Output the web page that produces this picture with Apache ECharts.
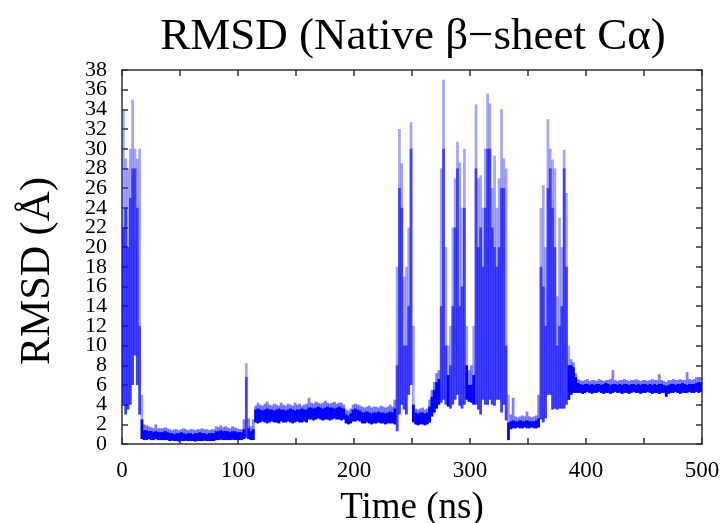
<!DOCTYPE html>
<html>
<head>
<meta charset="utf-8">
<script src="https://cdn.jsdelivr.net/npm/echarts@6/dist/echarts.min.js"></script>
<style>
  html, body { margin: 0; padding: 0; background: #fff; }
  #chart { width: 728px; height: 523px; }
</style>
</head>
<body>
<div id="chart"></div>
<script>
// RMSD trace summarised in 2 ns windows: lowest value, top of the dense band, highest value.
const BIN_NS = 2;

const rmsdLow = [
  4, 3, 3.5, 4, 6, 9, 6, 3, 0.5,
  0.4, 0.4, 0.5, 0.4, 0.4, 0.5, 0.4, 0.4, 0.4, 0.4, 0.4,
  0.3, 0.35, 0.3, 0.3, 0.25, 0.3, 0.3, 0.35, 0.3, 0.3, 0.3, 0.25, 0.3, 0.3, 0.3, 0.35, 0.3, 0.3, 0.3, 0.3,
  0.4, 0.4, 0.45, 0.4, 0.4, 0.4, 0.4, 0.45, 0.4, 0.4, 0.4, 0.4,
  0.5, 0.6, 0.5, 0.4, 0.4,
  2.2, 2.1, 2.2, 2.3, 2.2, 2.1, 2.2, 2.3, 2.2, 2.2, 2.1, 2.3, 2.2, 2.2, 2.3, 2.2, 2.1, 2.2, 2.3, 2.2, 2.2, 2.3, 2.2,
  2.5, 2.5, 2.4, 2.5, 2.6, 2.5, 2.4, 2.5, 2.5, 2.4, 2.5, 2.6, 2.5, 2.5, 2.4, 2.5,
  2.1, 2.0, 2.1,
  2.3, 2.3, 2.4, 2.3,
  2.1, 2.1, 2.2, 2.1, 2.0, 2.1, 2.1, 2.2, 2.1, 2.1, 2.0, 2.1, 2.1, 2.1,
  2.0, 1.3, 3, 4, 3.5, 3, 5, 6, 2.2,
  2.0, 1.9, 2.0, 2.0, 1.9, 2.0,
  2.2, 2.8, 3.2, 3.6, 4.0, 4.2,
  4.5, 4.0, 3.8, 3.6, 4.0, 4.5, 5, 3.9, 3.6, 4.0, 4.5,
  4.3, 4.2, 4.0,
  4.0, 3.5, 3.0, 4.5, 4, 4, 4.5, 4, 3.9, 4.5, 4.5, 3.2, 4, 2.4,
  0.4, 1.5, 1.6,
  1.6, 1.7, 1.6, 1.6, 1.7, 1.6, 1.6, 1.7, 1.6, 1.6,
  1.7,
  2.5, 2.2, 2.6, 5, 5, 3.5, 3.6, 3.5, 3.6, 3.6, 3.6, 4, 4.5,
  5.0, 5.2, 5.2, 5.2,
  5.2, 5.1, 5.2, 5.3, 5.2, 5.1, 5.2, 5.2, 5.3, 5.2,
  5.1, 5.2, 5.2, 5.1, 5.2, 5.3, 5.2, 5.2, 5.1, 5.2,
  5.2, 5.1, 5.2, 5.3, 5.2, 5.2, 5.1, 5.2, 5.2, 5.3,
  5.2, 5.1, 5.2, 5.2, 5.1, 5.2, 5.2, 4.8, 5.1, 5.2,
  5.2, 5.3, 5.2, 5.1, 5.2, 5.2, 5.2, 5.3, 5.2, 5.2,
  5.3, 5.2, 5.3
];

const rmsdBand = [
  22, 24, 20, 25, 28, 28, 24, 12, 2.5,
  1.4, 1.4, 1.3, 1.3, 1.2, 1.3, 1.2, 1.2, 1.2, 1.3, 1.2,
  1.1, 1.1, 1.0, 1.1, 1.1, 1.2, 1.1, 1.0, 1.1, 1.1, 1.0, 1.1, 1.1, 1.2, 1.1, 1.1, 1.0, 1.1, 1.1, 1.1,
  1.3, 1.3, 1.4, 1.3, 1.3, 1.3, 1.2, 1.3, 1.3, 1.2, 1.2, 1.2,
  1.5, 6.8, 1.6, 1.3, 1.5,
  3.5, 3.6, 3.5, 3.4, 3.5, 3.6, 3.5, 3.5, 3.4, 3.5, 3.6, 3.5, 3.5, 3.4, 3.5, 3.6, 3.5, 3.4, 3.5, 3.5, 3.6, 3.5, 3.5,
  3.7, 3.7, 3.6, 3.7, 3.8, 3.7, 3.6, 3.7, 3.8, 3.7, 3.7, 3.6, 3.7, 3.8, 3.7, 3.6,
  3.0, 2.9, 3.1,
  3.5, 3.6, 3.5, 3.4,
  3.2, 3.2, 3.3, 3.2, 3.1, 3.2, 3.2, 3.3, 3.2, 3.2, 3.1, 3.2, 3.3, 3.2,
  3.6, 8, 26, 24, 10, 10, 14, 30, 4,
  3.2, 3.1, 3.2, 3.2, 3.1, 3.2,
  3.8, 4.8, 5.5, 6.3, 6.6, 14,
  30, 10, 7, 8, 14, 22, 28, 14, 16, 24, 8,
  6, 6, 7,
  28, 20, 22, 18, 24, 30, 30, 22, 20, 18, 20, 26, 26, 10,
  2.2, 2.3, 2.4,
  2.3, 2.3, 2.4, 2.3, 2.3, 2.4, 2.3, 2.3, 2.3, 2.4,
  2.6,
  18, 16, 12, 26, 28, 24, 20, 10, 12, 14, 28, 18, 8,
  8, 7.8, 6.8, 6.2,
  6.1, 6.0, 6.1, 6.1, 6.0, 6.1, 6.0, 6.1, 6.1, 6.0,
  6.1, 6.2, 6.1, 6.0, 6.1, 6.1, 6.0, 6.1, 6.0, 6.1,
  6.1, 6.0, 6.1, 6.1, 6.0, 6.1, 6.0, 6.1, 6.1, 6.0,
  6.1, 6.0, 6.1, 6.0, 6.1, 6.1, 6.0, 5.9, 6.0, 6.1,
  6.1, 6.0, 6.1, 6.1, 6.2, 6.1, 6.0, 6.1, 6.1, 6.1,
  6.2, 6.3, 6.3
];

const rmsdHigh = [
  34, 29, 28, 30, 35, 30, 29, 30, 5,
  2.0, 1.9, 1.8, 1.7, 1.6, 2.0, 1.6, 1.6, 1.6, 1.7, 1.6,
  1.5, 1.4, 1.5, 1.5, 1.4, 1.5, 1.6, 1.5, 1.4, 1.5, 1.5, 1.4, 1.5, 1.5, 1.6, 1.5, 1.5, 1.4, 1.5, 1.5,
  1.8, 1.7, 1.9, 1.7, 1.8, 1.7, 1.6, 1.8, 1.7, 1.6, 1.5, 1.5,
  2.5, 8.2, 2.6, 1.8, 2.5,
  3.9, 4.2, 4.0, 3.9, 4.1, 4.3, 4.0, 3.9, 4.1, 4.0, 3.9, 4.2, 4.0, 3.9, 4.1, 4.0, 3.9, 4.2, 4.0, 4.1, 3.9, 4.0, 4.1,
  4.7, 4.2, 4.1, 4.3, 4.2, 4.1, 4.2, 4.4, 4.2, 4.1, 4.2, 4.3, 4.1, 4.2, 4.2, 4.0,
  3.5, 3.4, 3.6,
  4.0, 4.1, 4.0, 3.9,
  3.8, 3.7, 3.8, 3.9, 3.7, 3.8, 3.8, 3.7, 3.9, 3.8, 3.7, 3.8, 4.0, 3.8,
  4.5, 18, 32, 28.5, 17, 18, 22, 32.7, 12,
  3.6, 3.5, 3.6, 3.7, 3.5, 3.6,
  4.5, 5.5, 6.3, 7.2, 7.5, 28,
  37, 20, 10, 12, 22, 27, 30.7, 28.6, 24, 30, 12,
  7.5, 8, 12,
  34.5, 27, 27.3, 24, 30, 35.6, 34.6, 26, 29.3, 24, 27, 34, 29, 28,
  5, 3, 4.7,
  2.8, 2.7, 2.8, 2.9, 2.8, 3.3, 2.8, 2.7, 2.8, 2.9,
  5,
  24, 26.3, 20, 33, 30, 28.9, 28, 15, 23, 20, 29.9, 25.5, 10,
  8.6, 8.3, 7.2, 6.6,
  6.5, 6.4, 6.5, 6.6, 6.4, 6.5, 6.5, 6.4, 6.6, 6.5,
  6.4, 6.5, 6.5, 6.6, 7.5, 6.5, 6.4, 6.5, 6.5, 6.6,
  6.5, 6.4, 6.5, 6.5, 6.6, 6.5, 6.4, 6.5, 6.5, 6.4,
  6.5, 6.6, 6.5, 6.5, 7.1, 6.5, 6.4, 6.3, 6.5, 6.5,
  6.6, 6.5, 6.5, 6.6, 6.5, 6.5, 7.3, 6.6, 6.5, 6.6,
  6.8, 6.8, 6.8
];

const xTickLabels = [0, 100, 200, 300, 400, 500];
const yTickLabels = [0, 2, 4, 6, 8, 10, 12, 14, 16, 18, 20, 22, 24, 26, 28, 30, 32, 34, 36, 38];

const TEXT_FONT = '"Liberation Serif", "DejaVu Serif", serif';

// [start time, lower value, upper value] for each window
function windows(lower, upper) {
  return lower.map((v, i) => [i * BIN_NS, v, upper[i]]);
}

// Each window becomes a column between its lower and upper value.
// Tall (fluctuating) columns are drawn lighter than the tight plateau bands.
function columnRenderer(flatFill, tallFill) {
  return function (params, api) {
    const t = api.value(0);
    const lo = api.value(1);
    const hi = api.value(2);
    const p1 = api.coord([t, hi]);
    const p2 = api.coord([t + BIN_NS, lo]);
    const h = Math.max(1, p2[1] - p1[1]);
    return {
      type: 'rect',
      shape: { x: p1[0], y: p1[1], width: p2[0] - p1[0] + 0.4, height: h },
      style: { fill: hi - lo > 4 ? tallFill : flatFill },
      silent: true
    };
  };
}

const axisLineStyle = { color: '#333', width: 1.5 };
const tickStyle = { show: true, inside: true, length: 6, lineStyle: axisLineStyle };

const chart = echarts.init(document.getElementById('chart'), null, { renderer: 'canvas' });
chart.setOption({
  animation: false,
  backgroundColor: '#fff',
  title: {
    text: 'RMSD (Native β−sheet Cα)',
    left: 408,
    top: 10,
    textAlign: 'center',
    textStyle: { fontFamily: TEXT_FONT, fontSize: 45, fontWeight: 'normal', color: '#000' }
  },
  grid: { left: 122, right: 26, top: 70, bottom: 79, containLabel: false, outerBoundsMode: 'none' },
  xAxis: [
    {
      type: 'value', min: 0, max: 500, interval: 50, position: 'bottom',
      name: 'Time (ns)', nameLocation: 'middle', nameGap: 46,
      nameTextStyle: { fontFamily: TEXT_FONT, fontSize: 37, color: '#000' },
      axisLine: { show: true, onZero: false, lineStyle: axisLineStyle },
      axisTick: tickStyle,
      axisLabel: {
        fontFamily: TEXT_FONT, fontSize: 23, color: '#000', margin: 15,
        showMinLabel: true, showMaxLabel: true, hideOverlap: false,
        formatter: v => (xTickLabels.indexOf(v) >= 0 ? String(v) : '')
      },
      splitLine: { show: false }
    },
    {
      type: 'value', min: 0, max: 500, interval: 50, position: 'top',
      axisLine: { show: true, onZero: false, lineStyle: axisLineStyle },
      axisTick: tickStyle,
      axisLabel: { show: false },
      splitLine: { show: false }
    }
  ],
  yAxis: [
    {
      type: 'value', min: 0, max: 38, interval: 2, position: 'left',
      axisLine: { show: true, onZero: false, lineStyle: axisLineStyle },
      axisTick: tickStyle,
      axisLabel: { show: false },
      splitLine: { show: false }
    },
    {
      type: 'value', min: 0, max: 38, interval: 2, position: 'right',
      axisLine: { show: true, onZero: false, lineStyle: axisLineStyle },
      axisTick: tickStyle,
      axisLabel: { show: false },
      splitLine: { show: false }
    }
  ],
  series: [
    {
      name: 'range',
      type: 'custom',
      xAxisIndex: 0, yAxisIndex: 0,
      clip: true,
      renderItem: columnRenderer('rgba(0, 0, 255, 0.5)', 'rgba(40, 40, 255, 0.42)'),
      data: windows(rmsdLow, rmsdHigh),
      encode: { x: 0, y: [1, 2] }
    },
    {
      name: 'band',
      type: 'custom',
      xAxisIndex: 0, yAxisIndex: 0,
      clip: true,
      renderItem: columnRenderer('rgb(0, 0, 255)', 'rgba(0, 0, 255, 0.62)'),
      data: windows(rmsdLow, rmsdBand),
      encode: { x: 0, y: [1, 2] }
    }
  ]
});

// The y tick labels sit closer together than the axis label layout allows,
// so they are placed as text at the axis's own pixel positions.
const yAxisX = chart.convertToPixel({ xAxisIndex: 0 }, 0);
const tickTexts = yTickLabels.map(v => ({
  type: 'text',
  silent: true,
  x: yAxisX - 15,
  y: chart.convertToPixel({ yAxisIndex: 0 }, v),
  style: {
    text: String(v),
    font: '22px ' + TEXT_FONT,
    fill: '#000',
    align: 'right',
    verticalAlign: 'middle'
  }
}));

// Vertical axis title, read bottom to top.
const yTitle = {
  type: 'text',
  silent: true,
  x: 38,
  y: 271,
  rotation: Math.PI / 2,
  style: {
    text: 'RMSD (Å)',
    font: '42px ' + TEXT_FONT,
    fill: '#000',
    align: 'center',
    verticalAlign: 'middle'
  }
};

chart.setOption({ graphic: tickTexts.concat([yTitle]) });
</script>
</body>
</html>
